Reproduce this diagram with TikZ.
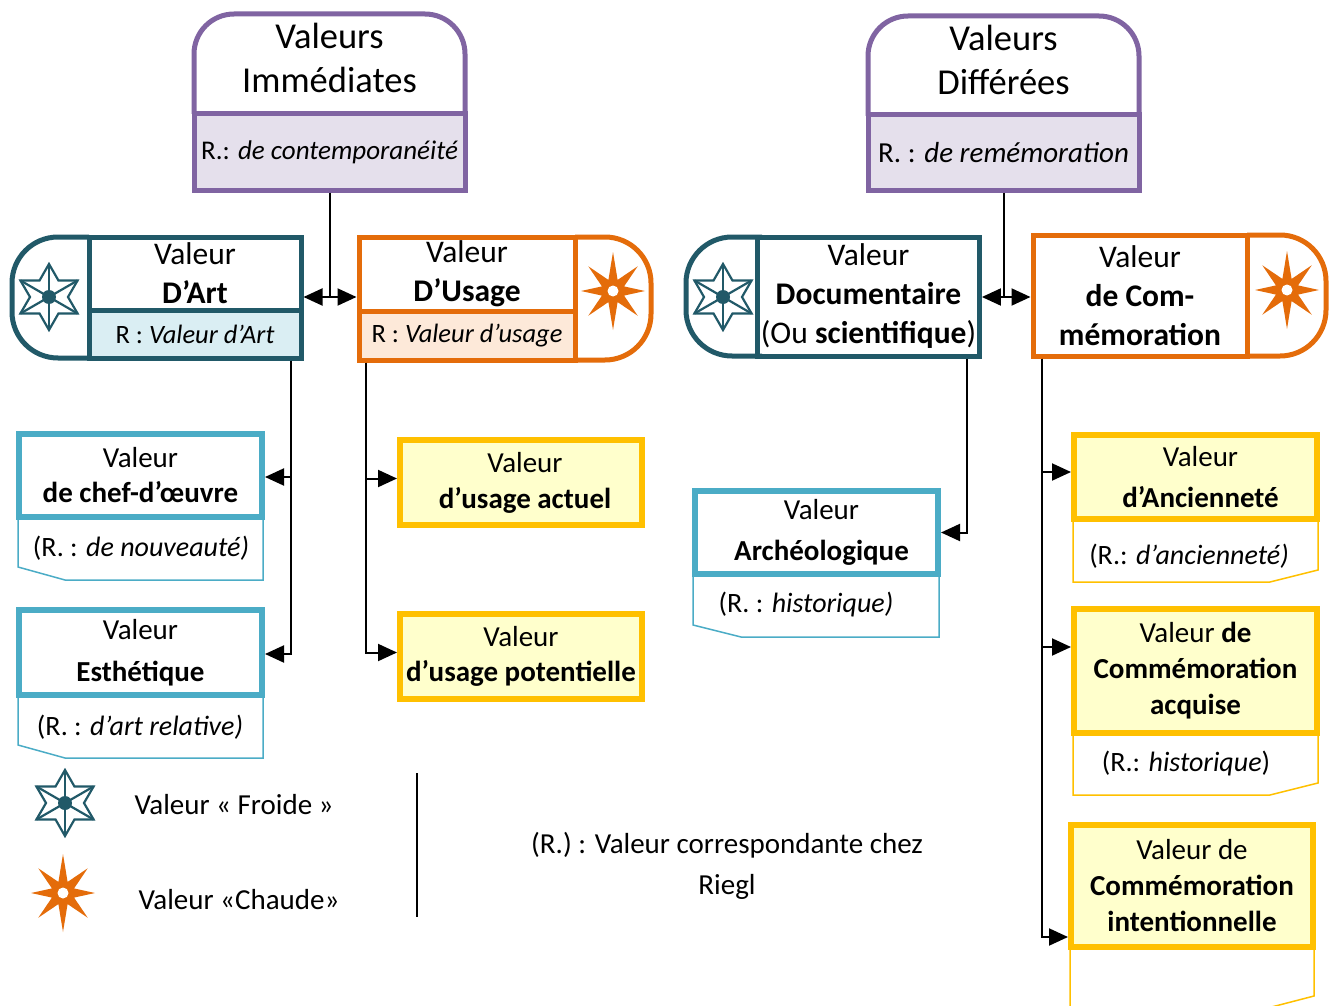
\documentclass[tikz,border=0pt]{standalone}
\usepackage{fontspec}
\setmainfont{Carlito}
\usetikzlibrary{arrows.meta}
\definecolor{purp}{HTML}{8064A2}
\definecolor{lav}{HTML}{E5E0EC}
\definecolor{tealD}{HTML}{215968}
\definecolor{ltblue}{HTML}{DAEEF3}
\definecolor{orng}{HTML}{E46C0A}
\definecolor{peach}{HTML}{FDE9D9}
\definecolor{aqua}{HTML}{4BACC6}
\definecolor{gold}{HTML}{FFC000}
\definecolor{cream}{HTML}{FFFFCC}
\newcommand{\fs}[2]{\fontsize{#1}{#2}\selectfont}
\tikzset{
  coldstar/.pic={
    \draw[tealD, line width=2.2pt, fill=white, line join=miter]
      (90:33) -- (60:19) -- (30:33) -- (0:19) -- (-30:33) -- (-60:19) -- (-90:33)
      -- (-120:19) -- (-150:33) -- (180:19) -- (150:33) -- (120:19) -- cycle;
    \foreach \a in {30,90,150,210,270,330} \draw[tealD, line width=2.2pt] (0,0) -- (\a:33);
    \fill[tealD] (0,0) circle (7pt);
  },
  hotstar/.pic={
    \fill[orng] (0:32) -- (22.5:12) -- (45:35) -- (67.5:12) -- (90:39) -- (112.5:12)
      -- (135:35) -- (157.5:12) -- (180:32) -- (202.5:12) -- (225:35) -- (247.5:12)
      -- (270:39) -- (292.5:12) -- (315:35) -- (337.5:12) -- cycle;
    \fill[white] (0,0) circle (5.5pt);
  },
  hdr/.style={font=\fs{36.5}{44}, align=center},
  mainbox/.style={line width=5pt, align=center, font=\fs{31.5}{39}},
  rtext/.style={font=\fs{27}{32}},
  subbox/.style={line width=6pt, align=center},
  bluebox/.style={subbox, draw=aqua, fill=white},
  yelbox/.style={subbox, draw=gold, fill=cream},
  notetxt/.style={font=\fs{28}{32}},
  conn/.style={line width=2pt},
  arr/.style={line width=2pt, -{Triangle[length=19pt,width=17pt]}},
}
\begin{document}
\begin{tikzpicture}[x=1pt,y=-1pt]
\useasboundingbox (0,0) rectangle (1333,1006);

% ---------- Purple headers ----------
\draw[purp, line width=5pt, fill=white, rounded corners=40pt] (194,114) -- (194,14) -- (465,14) -- (465,114);
\node[hdr] (imm) at (329.5,58) {Valeurs\\Immédiates};
\node[draw=purp, fill=lav, line width=5pt, minimum width=271pt, minimum height=76pt, rtext] (immR) at (329.5,152) {R.: \textit{de contemporanéité}};

\draw[purp, line width=5pt, fill=white, rounded corners=40pt] (868,116) -- (868,16) -- (1139,16) -- (1139,116);
\node[hdr] (dif) at (1003.5,60) {Valeurs\\Différées};
\node[draw=purp, fill=lav, line width=5pt, minimum width=271pt, minimum height=75pt, font=\fs{29}{32}] (difR) at (1003.5,152.5) {R. : \textit{de remémoration}};

% ---------- D'Art ----------
\draw[tealD, line width=5pt, rounded corners=46pt] (89,237) -- (12,237) -- (12,358) -- (89,358);
\node[mainbox, draw=tealD, minimum width=212pt, minimum height=73pt] (art) at (195,273.5) {Valeur\\\textbf{D’Art}};
\node[mainbox, draw=tealD, fill=ltblue, minimum width=212pt, minimum height=48pt, font=\fs{26.5}{30}] (artR) at (195,334) {R : \textit{Valeur d’Art}};
\pic at (49,297) {coldstar};

% ---------- D'Usage ----------
\draw[orng, line width=5pt, rounded corners=46pt] (575,237) -- (651,237) -- (651,360) -- (575,360);
\node[mainbox, draw=orng, minimum width=216pt, minimum height=74pt] (use) at (467,274) {Valeur\\\textbf{D’Usage}};
\node[mainbox, draw=orng, fill=peach, minimum width=216pt, minimum height=49pt, font=\fs{26.5}{30}] (useR) at (467,335.5) {R : \textit{Valeur d’usage}};
\pic at (613,291) {hotstar};

% ---------- Documentaire ----------
\draw[tealD, line width=5pt, rounded corners=46pt] (762,237) -- (686,237) -- (686,356) -- (762,356);
\node[mainbox, draw=tealD, minimum width=213pt, minimum height=119pt] (doc) at (868.5,296.5) {Valeur\\\textbf{Documentaire}\\(Ou \textbf{scientifique})};
\pic at (723,297) {coldstar};

% ---------- Commemoration ----------
\draw[orng, line width=5pt, rounded corners=46pt] (1247,235) -- (1326,235) -- (1326,356) -- (1247,356);
\node[mainbox, draw=orng, minimum width=214pt, minimum height=121pt] (com) at (1140,295.5) {Valeur\\\textbf{de Com-}\\\textbf{mémoration}};
\pic at (1287,290) {hotstar};

% ---------- Blue boxes ----------
\node[bluebox, minimum width=243pt, minimum height=83pt, font=\fs{29}{35}] (chef) at (140.5,475.5) {Valeur\\\textbf{de chef-d’œuvre}};
\draw[aqua, line width=1.5pt] (18,520) -- (18,567) -- (65,580) -- (263,580) -- (263,520);
\node[notetxt] (chefR) at (141,548) {(R. : \textit{de nouveauté)}};

\node[bluebox, minimum width=243pt, minimum height=85pt, font=\fs{29}{42}] (esth) at (140.5,652.5) {Valeur\\\textbf{Esthétique}};
\draw[aqua, line width=1.5pt] (18,698) -- (18,745) -- (65,758) -- (263,758) -- (263,698);
\node[notetxt] (esthR) at (140,727) {(R. : \textit{d’art relative)}};

\node[bluebox, minimum width=243pt, minimum height=83pt, font=\fs{29}{41}] (arch) at (816.5,532.5) {\hspace*{10pt}Valeur\\\hspace*{10pt}\textbf{Archéologique}};
\draw[aqua, line width=1.5pt] (693,577) -- (693,625) -- (741,637) -- (939,637) -- (939,577);
\node[notetxt] (archR) at (806,605) {(R. : \textit{historique)}};

% ---------- Yellow boxes ----------
\node[yelbox, minimum width=242pt, minimum height=85pt, font=\fs{29}{36}] (act) at (521,482.5) {\hspace*{8pt}Valeur\\\hspace*{8pt}\textbf{d’usage actuel}};
\node[yelbox, minimum width=242pt, minimum height=85pt, font=\fs{29}{35}] (pot) at (521,656.5) {Valeur\\\textbf{d’usage potentielle}};

\node[yelbox, minimum width=243pt, minimum height=84pt, font=\fs{29}{41}] (anc) at (1195.5,477) {\hspace*{10pt}Valeur\\\hspace*{10pt}\textbf{d’Ancienneté}};
\draw[gold, line width=1.5pt] (1073,522) -- (1073,582) -- (1270,582) -- (1318,570) -- (1318,522);
\node[notetxt] (ancR) at (1189,556) {(R.: \textit{d’ancienneté)}};

\node[yelbox, minimum width=243pt, minimum height=124pt, font=\fs{29}{36}] (acq) at (1195.5,671) {Valeur \textbf{de}\\\textbf{Commémoration}\\\textbf{acquise}};
\draw[gold, line width=1.5pt] (1073,736) -- (1073,795) -- (1270,795) -- (1318,783) -- (1318,736);
\node[notetxt] (acqR) at (1186,764) {(R.: \textit{historique})};

\node[yelbox, minimum width=242pt, minimum height=122pt, font=\fs{29}{36}] (int) at (1192,886) {Valeur de\\\textbf{Commémoration}\\\textbf{intentionnelle}};
\draw[gold, line width=1.5pt] (1070,950) -- (1070,1010) -- (1260,1010) -- (1314,996) -- (1314,950);

% ---------- Connectors ----------
\coordinate (jL) at (329.5,297);
\draw[conn] (immR.south) -- (jL);
\draw[arr] (jL) -- (art.east |- jL);
\draw[arr] (jL) -- (use.west |- jL);

\coordinate (jR) at (1003.5,297);
\draw[conn] (difR.south) -- (jR);
\draw[arr] (jR) -- (doc.east |- jR);
\draw[arr] (jR) -- (com.west |- jR);

\coordinate (dArt) at (291,360.5);
\draw[arr] (dArt) |- ([yshift=-1.5pt]chef.east);
\draw[arr] (dArt) |- ([yshift=-1.5pt]esth.east);

\coordinate (dUse) at (366,362.5);
\draw[arr] (dUse) |- ([yshift=4pt]act.west);
\draw[arr] (dUse) |- ([yshift=4pt]pot.west);

\coordinate (dDoc) at (967,358.5);
\draw[arr] (dDoc) |- (arch.east);

\coordinate (dCom) at (1042,358.5);
\draw[arr] (dCom) |- ([yshift=5pt]anc.west);
\draw[arr] (dCom) |- ([yshift=24pt]acq.west);
\draw[arr] (dCom) |- ([yshift=-51pt]int.west);

% ---------- Legend ----------
\pic at (65,803) {coldstar};
\pic at (63,893) {hotstar};
\node[anchor=west, font=\fs{29}{35}] (lgF) at (131,805) {Valeur « Froide »};
\node[anchor=west, font=\fs{29}{35}] (lgC) at (135,900) {Valeur «Chaude»};
\draw[line width=1.5pt] (417,773) -- (417,917);
\node[font=\fs{29}{41}, align=center] (rdef) at (727,866) {(R.) : Valeur correspondante chez\\Riegl};
\end{tikzpicture}
\end{document}
